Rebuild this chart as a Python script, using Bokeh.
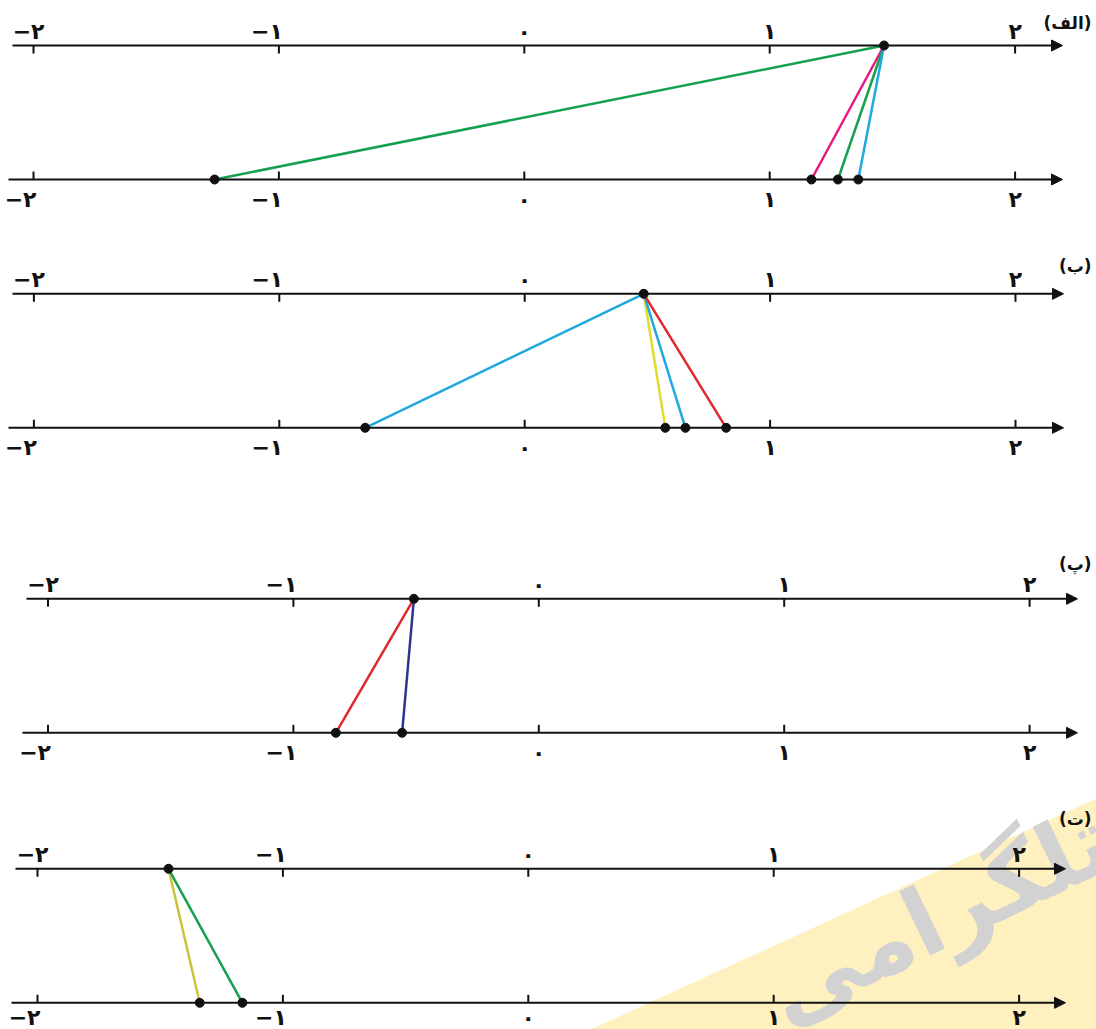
from bokeh.plotting import figure
from bokeh.models import Range1d, Arrow, NormalHead, ColumnDataSource
from bokeh.core.properties import value
from bokeh.embed import file_html
from bokeh.resources import INLINE

# ---------------- data ----------------
tick_values = [-2, -1, 0, 1, 2]
tick_labels = ["−۲", "−۱", "۰", "۱", "۲"]
panel_labels = ["(الف)", "(ب)", "(پ)", "(ت)"]

top_points = [1.466, 0.485, -0.509, -1.466]
bottom_a = [-1.262, 1.170, 1.278, 1.361]
bottom_b = [-0.650, 0.573, 0.655, 0.821]
bottom_p = [-0.827, -0.557]
bottom_t = [-1.339, -1.165]
bottom_points = [bottom_a, bottom_b, bottom_p, bottom_t]

watermark_text = "تلگرامی"

# ---------------- style / layout ----------------
GREEN = "#17a04f"
MAGENTA = "#e5197f"
CYAN = "#1fa9de"
YELLOW = "#e2dc2c"
OLIVE = "#cbc23a"
RED = "#e0282e"
NAVY = "#2f3490"
INK = "#111111"
segment_colors = [
    [GREEN, MAGENTA, GREEN, CYAN],
    [CYAN, YELLOW, CYAN, RED],
    [RED, NAVY],
    [OLIVE, GREEN],
]

W, H = 1096, 1029
PAGE0 = 0
GAP = 134.0                       # px between the two lines of a panel
UNIT = 245.4                      # px per unit on the number lines
panel_top_px = [45.0, 293.3, 598.3, 868.3]
zero_px = [523.8, 524.2, 538.3, 527.8]
top_start_px = [12, 12, 26, 15]
bot_start_px = [8, 8, 22, 11]
tip_px = [1062, 1063, 1077, 1065]
label_dy = [-23, -28, -35, -50]
bottom_label_dy = [20, 20, 20, 15]
TICK_PX = 8
LABEL_FONT = "22px"

p = figure(width=W, height=H,
           x_range=Range1d(PAGE0, PAGE0 + W), y_range=Range1d(PAGE0 + H, PAGE0),
           output_backend="svg", toolbar_location=None, min_border=0,
           x_axis_type=None, y_axis_type=None)
p.grid.visible = False
p.outline_line_color = None
p.background_fill_color = "white"
p.border_fill_color = "white"

# watermark band (decoration, page pixel coords)
p.patch(x=[590, 1096, 1096, 590], y=[1029, 798, 1029, 1029],
        fill_color="#fff0b8", line_color=None, fill_alpha=0.9)
p.text(x=[938], y=[915], text=[watermark_text], angle=0.45,
       text_font=value("DejaVu Sans"), text_font_style="bold",
       text_font_size="94px", text_color="#d2d2d2",
       text_align="center", text_baseline="middle")

xr, yr = {}, {}
for i in range(4):
    z = zero_px[i]
    T = panel_top_px[i]
    B = T + GAP
    xr[f"x{i}"] = Range1d((PAGE0 - z) / UNIT, (PAGE0 + W - z) / UNIT)
    yr[f"y{i}"] = Range1d(-(PAGE0 + H - B) / GAP, 1 + (T - PAGE0) / GAP)
p.extra_x_ranges = xr
p.extra_y_ranges = yr

tick_len = TICK_PX / GAP
for i in range(4):
    xn, yn = f"x{i}", f"y{i}"
    z = zero_px[i]
    px2x = lambda v: (v - z) / UNIT

    # number lines with arrowheads
    for yline, xs in ((1, top_start_px[i]), (0, bot_start_px[i])):
        p.add_layout(Arrow(x_start=px2x(xs), y_start=yline, x_end=px2x(tip_px[i]), y_end=yline,
                           line_color=INK, line_width=2,
                           end=NormalHead(size=11, fill_color=INK, line_color=INK, line_width=1),
                           x_range_name=xn, y_range_name=yn))

    # ticks (pointing toward the other line)
    p.segment(x0=tick_values, y0=[1] * 5, x1=tick_values, y1=[1 - tick_len] * 5,
              line_color=INK, line_width=2, x_range_name=xn, y_range_name=yn)
    p.segment(x0=tick_values, y0=[0] * 5, x1=tick_values, y1=[tick_len] * 5,
              line_color=INK, line_width=2, x_range_name=xn, y_range_name=yn)

    # tick labels
    neg = [k for k, v in enumerate(tick_values) if v < 0]
    nonneg = [k for k, v in enumerate(tick_values) if v >= 0]
    for yline, dy, negdx in ((1, -14, [11, 4]), (0, bottom_label_dy[i], [3, 4])):
        for k, dx in zip(neg, negdx):
            p.text(x=[tick_values[k]], y=[yline], text=[tick_labels[k]],
                   x_offset=dx, y_offset=dy,
                   text_font=value("DejaVu Sans"), text_font_style="bold",
                   text_font_size=LABEL_FONT,
                   text_color=INK, text_align="right", text_baseline="middle",
                   x_range_name=xn, y_range_name=yn)
        p.text(x=[tick_values[k] for k in nonneg], y=[yline] * len(nonneg),
               text=[tick_labels[k] for k in nonneg], y_offset=dy,
               text_font=value("DejaVu Sans"), text_font_style="bold",
               text_font_size=LABEL_FONT,
               text_color=INK, text_align="center", text_baseline="middle",
               x_range_name=xn, y_range_name=yn)

    # connecting segments
    bvals = bottom_points[i]
    n = len(bvals)
    src = ColumnDataSource(dict(x0=[top_points[i]] * n, y0=[1] * n, x1=bvals, y1=[0] * n,
                                c=segment_colors[i]))
    p.segment(x0="x0", y0="y0", x1="x1", y1="y1", line_color="c", line_width=2.5,
              source=src, x_range_name=xn, y_range_name=yn)

    # dots
    p.scatter(x=[top_points[i]] + bvals, y=[1] + [0] * n, size=9,
              fill_color=INK, line_color=INK, x_range_name=xn, y_range_name=yn)

    # panel label
    p.text(x=[1091], y=[panel_top_px[i] + label_dy[i]], text=[panel_labels[i]],
           text_font=value("DejaVu Sans"), text_font_style="bold", text_font_size="17px",
           text_color=INK, text_align="right", text_baseline="middle")

open("out.html", "w").write(file_html(p, INLINE))
